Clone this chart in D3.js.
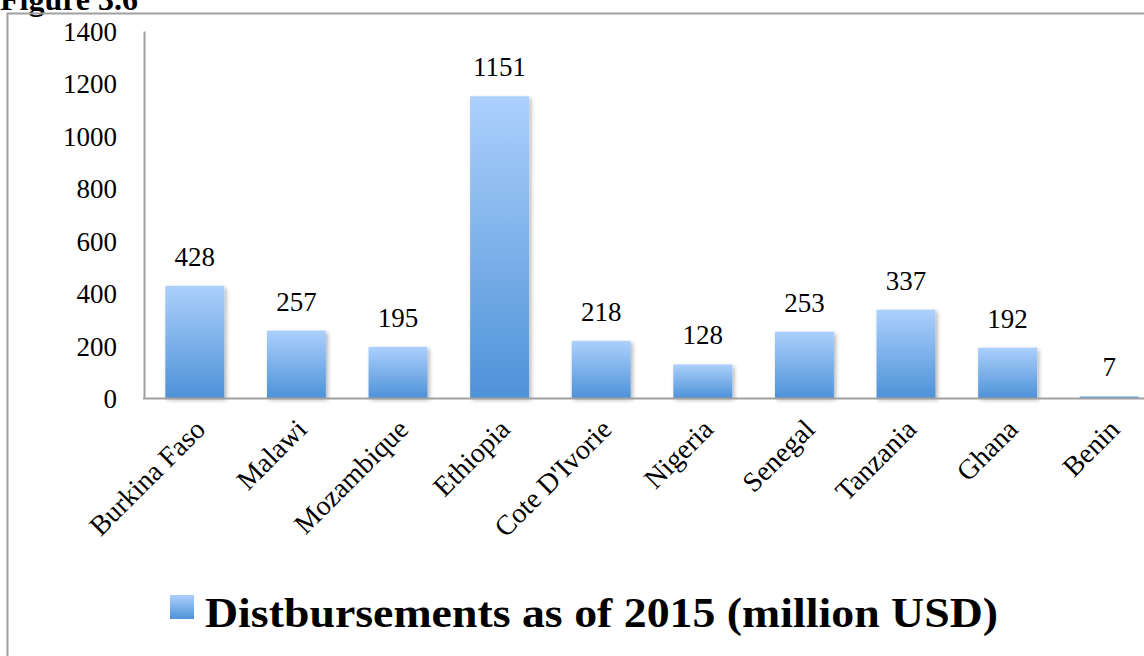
<!DOCTYPE html>
<html>
<head>
<meta charset="utf-8">
<script src="https://cdn.jsdelivr.net/npm/d3@7"></script>
<style>
	body { margin: 0; background: #fff; }
	svg { display: block; }
</style>
</head>
<body>
<svg width="1144" height="656"></svg>
<script>
var countries = ["Burkina Faso", "Malawi", "Mozambique", "Ethiopia", "Cote D'Ivorie",
	"Nigeria", "Senegal", "Tanzania", "Ghana", "Benin"];
var disbursements = [428, 257, 195, 1151, 218, 128, 253, 337, 192, 7];
var yTicks = [0, 200, 400, 600, 800, 1000, 1200, 1400];
var seriesName = "Distbursements as of 2015 (million USD)";
var figureTitle = "Figure 3.6";

var svg = d3.select("svg"),
	width = +svg.attr("width"),
	height = +svg.attr("height");

var serif = "'Liberation Serif', 'Times New Roman', serif";

var defs = svg.append("defs");
var grad = defs.append("linearGradient")
	.attr("id", "barGrad")
	.attr("x1", 0).attr("y1", 0).attr("x2", 0).attr("y2", 1);
grad.append("stop").attr("offset", "0%").attr("stop-color", "#acd0fc");
grad.append("stop").attr("offset", "100%").attr("stop-color", "#4e92d8");

var shadow = defs.append("filter")
	.attr("id", "shadow")
	.attr("x", "-20%").attr("y", "-20%").attr("width", "150%").attr("height", "150%");
shadow.append("feGaussianBlur").attr("in", "SourceAlpha").attr("stdDeviation", 2);
shadow.append("feOffset").attr("dx", 2).attr("dy", 2).attr("result", "off");
shadow.append("feComponentTransfer").append("feFuncA").attr("type", "linear").attr("slope", 0.3);
var merge = shadow.append("feMerge");
merge.append("feMergeNode");
merge.append("feMergeNode").attr("in", "SourceGraphic");

// figure caption, cut off at the top like the source
svg.append("text")
	.attr("x", 0)
	.attr("y", 10)
	.style("font-family", serif)
	.style("font-weight", "bold")
	.style("font-size", "32px")
	.text(figureTitle);

// chart frame
svg.append("rect")
	.attr("x", 7.5)
	.attr("y", 13.5)
	.attr("width", 1200)
	.attr("height", 700)
	.attr("fill", "none")
	.attr("stroke", "#a0a0a0")
	.attr("stroke-width", 2);

var x = d3.scaleBand()
	.domain(countries)
	.range([144, 1160])
	.paddingInner(0.42)
	.paddingOuter(0.21);

var y = d3.scaleLinear()
	.domain([0, 1400])
	.range([398, 31]);

// y axis
var yAxis = svg.append("g")
	.attr("transform", "translate(144,0)")
	.call(d3.axisLeft(y).tickValues(yTicks).tickFormat(d3.format("d")).tickSize(0).tickPadding(27));
yAxis.select(".domain").attr("stroke", "#a0a0a0").attr("stroke-width", 2);
yAxis.selectAll("text")
	.style("font-family", serif)
	.style("font-size", "27px")
	.attr("fill", "#000")
	.attr("dy", "0.35em");

// bars
svg.append("g")
	.selectAll("rect")
	.data(disbursements)
	.enter().append("rect")
	.attr("x", function (d, i) { return x(countries[i]); })
	.attr("y", function (d) { return y(d); })
	.attr("width", x.bandwidth())
	.attr("height", function (d) { return y(0) - y(d); })
	.attr("fill", "url(#barGrad)")
	.attr("filter", "url(#shadow)");

// x axis line
svg.append("line")
	.attr("x1", 143).attr("x2", width)
	.attr("y1", 398.5).attr("y2", 398.5)
	.attr("stroke", "#a0a0a0")
	.attr("stroke-width", 2);

// value labels
svg.append("g")
	.selectAll("text")
	.data(disbursements)
	.enter().append("text")
	.attr("x", function (d, i) { return x(countries[i]) + x.bandwidth() / 2; })
	.attr("y", function (d) { return y(d) - 20; })
	.attr("text-anchor", "middle")
	.style("font-family", serif)
	.style("font-size", "27px")
	.text(function (d) { return d; });

// category labels
svg.append("g")
	.selectAll("text")
	.data(countries)
	.enter().append("text")
	.attr("transform", function (d) {
		return "translate(" + (x(d) + x.bandwidth() / 2 + 12) + ",431) rotate(-45)";
	})
	.attr("text-anchor", "end")
	.style("font-family", serif)
	.style("font-size", "28px")
	.text(function (d) { return d; });

// legend
var legend = svg.append("g");
legend.append("rect")
	.attr("x", 170).attr("y", 595)
	.attr("width", 24).attr("height", 24)
	.attr("fill", "url(#barGrad)");
legend.append("text")
	.attr("x", 205)
	.attr("y", 627)
	.attr("textLength", 793)
	.attr("lengthAdjust", "spacingAndGlyphs")
	.style("font-family", serif)
	.style("font-weight", "bold")
	.style("font-size", "42px")
	.text(seriesName);
</script>
</body>
</html>
